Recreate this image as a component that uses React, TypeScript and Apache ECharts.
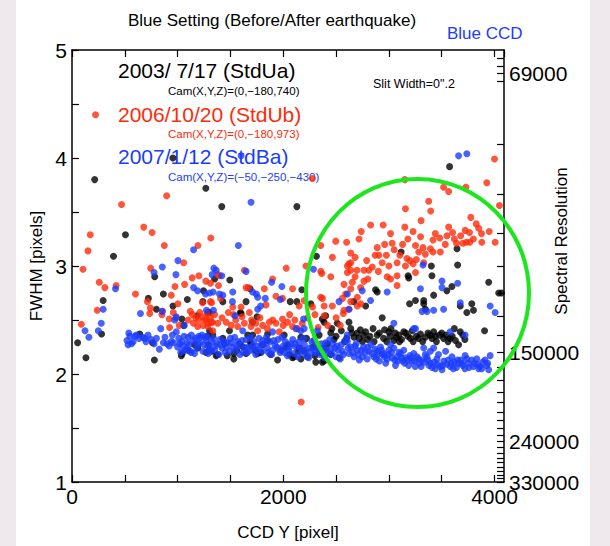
import React, { useEffect, useRef } from "react";
import * as echarts from "echarts";

// ---------- data ----------
const std2003: [number, number][] = [
  [53, 2.29], [132, 2.15], [215, 3.8], [280, 2.37], [295, 2.68], [393, 3.09], [506, 3.29], [641, 2.37],
  [723, 2.7], [762, 2.29], [780, 2.13], [799, 2.6], [783, 2.9], [865, 2.74], [956, 2.63], [955, 4.0],
  [1035, 2.17], [1040, 2.51], [1044, 2.19], [1057, 2.45], [1092, 2.69], [1186, 2.54], [1192, 2.24],
  [1239, 2.67], [1245, 2.77], [1267, 3.72], [1270, 2.2], [1283, 2.35], [1286, 2.57], [1292, 2.27],
  [1302, 2.4], [1302, 2.57], [1333, 2.36], [1350, 2.88], [1365, 2.17], [1380, 2.18], [1418, 3.55],
  [1428, 2.33], [1428, 2.67], [1443, 2.28], [1491, 2.4], [1494, 2.87], [1532, 2.14], [1532, 2.19],
  [1585, 2.28], [1594, 2.57], [1601, 2.56], [1648, 2.67], [1648, 2.19], [1663, 2.36], [1686, 2.79],
  [1686, 2.3], [1695, 2.27], [1710, 2.48], [1710, 2.36], [1752, 2.53], [1758, 2.19], [1788, 2.2],
  [1805, 2.27], [1852, 2.37], [1852, 2.31], [1946, 2.13], [2009, 2.36], [2025, 2.25], [2041, 2.27],
  [2066, 2.67], [2088, 2.15], [2104, 2.16], [2129, 2.67], [2129, 3.55], [2151, 2.24], [2167, 2.14],
  [2167, 2.34], [2176, 2.78], [2198, 2.21], [2220, 2.33], [2261, 2.65], [2300, 2.17], [2308, 2.11],
  [2314, 3.09], [2340, 2.36], [2370, 2.51], [2370, 2.11], [2387, 2.12], [2387, 2.48], [2402, 2.54],
  [2402, 2.24], [2450, 2.38], [2450, 2.18], [2480, 2.32], [2512, 2.47], [2530, 2.15], [2550, 2.4],
  [2580, 2.3], [2622, 2.48], [2639, 2.42], [2670, 2.67], [2670, 2.34], [2700, 2.38], [2717, 2.33],
  [2750, 2.3], [2780, 2.63], [2780, 2.39], [2820, 2.35], [2850, 2.42], [2874, 2.78], [2890, 2.76],
  [2890, 2.36], [2937, 2.52], [2950, 2.33], [2980, 2.3], [3000, 2.39], [3020, 2.42], [3047, 2.31],
  [3070, 2.34], [3094, 2.36], [3116, 3.13], [3120, 2.32], [3141, 2.39], [3160, 2.38], [3182, 2.91],
  [3188, 2.89], [3196, 2.65], [3204, 2.33], [3230, 2.3], [3252, 2.68], [3260, 2.35], [3299, 2.37],
  [3330, 2.68], [3330, 2.65], [3345, 2.6], [3345, 2.34], [3370, 2.38], [3402, 3.0], [3408, 2.91],
  [3408, 2.33], [3424, 2.39], [3424, 2.73], [3450, 2.3], [3480, 2.36], [3518, 2.33], [3549, 2.77],
  [3560, 2.3], [3575, 3.92], [3597, 2.81], [3600, 2.35], [3620, 2.42], [3645, 3.16], [3651, 3.01],
  [3660, 2.27], [3676, 2.63], [3676, 2.39], [3700, 2.36], [3738, 2.57], [3785, 2.65], [3801, 2.59],
  [3906, 2.4], [3945, 2.85], [4040, 2.75], [4066, 2.75],
  [2460, 2.42], [2500, 2.35], [2600, 2.33], [2650, 2.38], [2730, 2.41], [2760, 2.36], [2800, 2.32],
  [2860, 2.3], [2910, 2.38], [2960, 2.41], [3010, 2.35], [3060, 2.38], [3100, 2.3], [3180, 2.35],
  [3220, 2.4], [3280, 2.33], [3320, 2.3], [3390, 2.36], [3440, 2.35], [3500, 2.38], [3540, 2.36],
  [3580, 2.33], [3630, 2.31], [3720, 2.32],
  [1100, 2.22], [1160, 2.27], [1320, 2.21], [1470, 2.17], [1560, 2.22], [1620, 2.25], [1730, 2.22],
  [1880, 2.18], [1980, 2.22], [2060, 2.18], [2140, 2.21], [2230, 2.16], [2280, 2.25], [2350, 2.2],
  [2420, 2.28],
];

const std2006: [number, number][] = [
  [88, 2.46], [104, 2.97], [151, 3.14], [173, 3.29], [223, 4.4], [239, 2.59], [258, 2.85], [311, 2.8],
  [418, 2.82], [469, 3.57], [601, 2.74], [679, 3.36], [714, 2.67], [736, 2.56], [742, 2.61], [745, 2.98],
  [758, 3.31], [851, 2.55], [855, 2.58], [874, 3.19], [896, 3.65], [921, 2.51], [924, 2.43], [940, 2.73],
  [959, 2.57], [975, 2.81], [984, 2.52], [1003, 2.65], [1015, 2.45], [1057, 3.03], [1066, 2.83],
  [1138, 2.89], [1192, 3.19], [1201, 2.91], [1236, 2.66], [1267, 2.86], [1311, 2.84], [1314, 3.26],
  [1321, 2.66], [1311, 2.67], [1140, 2.55], [1170, 2.52], [1200, 2.5], [1230, 2.53], [1260, 2.5],
  [1290, 2.47], [1150, 2.47], [1190, 2.44], [1240, 2.45], [1310, 2.52], [1280, 2.56], [1210, 2.57],
  [1330, 2.48], [1270, 2.51], [1318, 2.48], [1286, 2.44], [1380, 2.47], [1333, 2.4], [1380, 2.92],
  [1387, 2.82], [1396, 2.91], [1406, 2.7], [1459, 2.48], [1507, 2.45], [1522, 2.62], [1530, 2.55],
  [1569, 2.44], [1601, 2.62], [1632, 2.96], [1632, 2.47], [1648, 2.8], [1670, 2.8], [1679, 2.57],
  [1695, 2.44], [1758, 2.4], [1805, 2.45], [1821, 2.79], [1836, 2.64], [1868, 2.48], [1899, 2.88],
  [1931, 2.72], [1931, 2.47], [1962, 2.39], [1993, 2.7], [1993, 2.51], [2028, 2.98], [2041, 2.48],
  [2088, 2.79], [2088, 2.44], [2135, 2.42], [2151, 2.63], [2170, 1.74], [2198, 2.68], [2215, 3.0],
  [2276, 3.81], [2277, 2.62], [2355, 3.19], [2355, 2.95], [2355, 2.71], [2365, 2.93], [2371, 2.7],
  [2387, 2.63], [2387, 2.54], [2420, 2.45], [2450, 2.9], [2465, 3.08], [2465, 2.63], [2497, 3.23],
  [2500, 2.52], [2540, 2.45], [2569, 2.56], [2575, 2.83], [2575, 2.59], [2591, 2.74], [2600, 3.22],
  [2607, 2.94], [2607, 3.0], [2622, 2.6], [2622, 3.02], [2639, 3.12], [2639, 3.03], [2639, 2.96],
  [2639, 2.79], [2639, 2.67], [2654, 2.85], [2698, 2.96], [2701, 2.71], [2701, 2.63], [2717, 3.25],
  [2733, 2.8], [2733, 2.65], [2738, 3.32], [2764, 2.86], [2764, 2.96], [2811, 2.96], [2827, 3.38],
  [2843, 2.99], [2890, 3.17], [2905, 3.1], [2937, 3.03], [2946, 3.38], [2976, 3.1], [2984, 2.9],
  [3000, 3.0], [3016, 3.3], [3016, 2.88], [3031, 3.21], [3078, 2.91], [3078, 2.82], [3078, 3.03],
  [3104, 3.1], [3151, 3.8], [3151, 3.36], [3157, 3.53], [3157, 3.0], [3171, 3.07], [3200, 3.05],
  [3230, 3.02], [3252, 3.19], [3252, 2.94], [3260, 3.06], [3229, 3.32], [3283, 3.13], [3305, 3.42],
  [3323, 3.17], [3330, 3.03], [3345, 3.11], [3377, 3.6], [3393, 3.16], [3396, 3.51], [3418, 3.24],
  [3418, 3.13], [3481, 3.26], [3487, 3.13], [3518, 3.73], [3534, 3.2], [3566, 3.69], [3566, 3.36],
  [3603, 3.31], [3641, 3.21], [3700, 3.21], [3722, 3.33], [3729, 3.73], [3735, 3.22], [3763, 3.31],
  [3766, 3.22], [3776, 3.45], [3827, 3.39], [3877, 3.3], [3880, 3.22], [3927, 3.77], [4000, 3.99],
  [4006, 3.22], [4047, 3.56],
  [1100, 2.5], [1120, 2.58], [1350, 2.55], [1420, 2.52], [1480, 2.57], [1550, 2.5], [1610, 2.53],
  [1700, 2.5], [1740, 2.47], [1780, 2.52], [1850, 2.42], [1900, 2.5], [2000, 2.45], [2060, 2.55],
  [2110, 2.5], [2180, 2.47], [2230, 2.52], [2300, 2.55], [2330, 2.43],
  [2680, 3.08], [2790, 3.05], [2870, 3.1], [2960, 3.2], [3050, 3.15], [3130, 3.2], [3180, 3.25],
  [3300, 3.27], [3440, 3.3], [3550, 3.28], [3620, 3.25], [3680, 3.28], [3800, 3.25], [3850, 3.35],
  [3950, 3.32], [2560, 2.7], [2680, 2.9], [2800, 2.88], [2900, 2.95],
];

const std2007: [number, number][] = [
  [123, 2.4], [160, 2.34], [249, 2.4], [277, 2.47], [295, 2.6], [412, 2.79], [531, 2.27], [538, 2.38],
  [547, 2.35], [563, 2.28], [594, 2.35], [635, 2.33], [648, 2.56], [670, 2.34], [688, 2.33], [777, 2.94],
  [777, 2.28], [827, 2.23], [840, 2.42], [855, 2.99], [855, 2.58], [865, 2.29], [900, 2.28], [940, 2.3],
  [972, 2.5], [984, 2.92], [987, 2.53], [987, 2.39], [1003, 3.05], [1019, 2.28], [1063, 2.45],
  [1082, 2.23], [1129, 2.2], [1151, 3.15], [1151, 2.8], [1189, 2.77], [1264, 2.74], [1273, 2.59],
  [1286, 2.26], [1302, 2.75], [1327, 2.92], [1336, 2.76], [1339, 2.59], [1343, 2.98], [1365, 2.96],
  [1396, 2.74], [1418, 2.91], [1428, 2.73], [1519, 2.67], [1522, 2.76], [1544, 2.54], [1575, 3.19],
  [1601, 4.02], [1616, 2.4], [1648, 2.95], [1695, 3.59], [1710, 2.76], [1745, 2.74], [1758, 2.6],
  [1758, 2.71], [1786, 2.63], [1830, 2.7], [1890, 2.85], [1899, 2.39], [1972, 2.69], [1987, 2.81],
  [2120, 2.42], [2167, 2.4], [2192, 2.51], [2198, 2.42], [2286, 2.97], [2323, 2.4], [2528, 2.67],
  [2606, 2.36], [2607, 2.74], [2622, 2.6], [2748, 2.77], [2827, 2.68], [2984, 2.76], [3047, 2.47],
  [3236, 2.42], [3252, 2.42], [3299, 2.79], [3314, 2.58], [3323, 3.01], [3361, 2.58], [3424, 2.59],
  [3503, 2.86], [3503, 2.8], [3518, 2.6], [3581, 2.39], [3651, 2.84], [3660, 4.02], [3676, 2.66],
  [3722, 2.36], [3738, 4.04], [3959, 2.63], [4006, 2.57],
  [1060, 2.35], [1100, 2.34], [1130, 2.36], [1170, 2.33], [1200, 2.35], [1230, 2.36], [1260, 2.34],
  [1280, 2.35],
  [1000, 2.25], [1040, 2.3], [1070, 2.22], [1110, 2.27], [1150, 2.31], [1180, 2.24], [1210, 2.29],
  [1240, 2.21], [1270, 2.31], [1300, 2.25], [1320, 2.3], [1350, 2.22], [1370, 2.28], [1400, 2.32],
  [1420, 2.24], [1450, 2.2], [1470, 2.29], [1500, 2.33], [1520, 2.25], [1550, 2.22], [1570, 2.3],
  [1600, 2.27], [1620, 2.2], [1650, 2.32], [1670, 2.25], [1700, 2.22], [1720, 2.3], [1750, 2.26],
  [1770, 2.33], [1800, 2.21], [1820, 2.28], [1850, 2.24], [1870, 2.3], [1900, 2.22], [1920, 2.27],
  [1950, 2.32], [1970, 2.2], [2000, 2.26], [2020, 2.3], [2050, 2.22], [2070, 2.28], [2100, 2.19],
  [2120, 2.25], [2150, 2.3], [2170, 2.2], [2200, 2.27], [2220, 2.17], [2250, 2.24], [2270, 2.3],
  [2300, 2.2], [2320, 2.26], [2350, 2.18], [2370, 2.24], [2400, 2.29], [2420, 2.19], [2450, 2.23],
  [2470, 2.28], [2500, 2.16], [2520, 2.22], [2550, 2.27], [2570, 2.18], [2590, 2.31],
  [1030, 2.2], [1090, 2.29], [1160, 2.19], [1220, 2.34], [1290, 2.19], [1340, 2.33], [1390, 2.18],
  [1440, 2.3], [1490, 2.21], [1540, 2.34], [1590, 2.18], [1640, 2.24], [1690, 2.34], [1740, 2.18],
  [1790, 2.27], [1840, 2.34], [1890, 2.18], [1940, 2.25], [1990, 2.34], [2040, 2.17], [2090, 2.32],
  [2140, 2.16], [2190, 2.33], [2240, 2.15], [2290, 2.31], [2340, 2.22], [2390, 2.15], [2440, 2.32],
  [2490, 2.24], [2540, 2.14],
  [2607, 2.3], [2622, 2.19], [2639, 2.25], [2670, 2.16], [2690, 2.28], [2701, 2.22], [2720, 2.13],
  [2748, 2.16], [2760, 2.25], [2795, 2.14], [2810, 2.21], [2830, 2.27], [2858, 2.16], [2870, 2.23],
  [2890, 2.21], [2910, 2.12], [2921, 2.25], [2940, 2.18], [2953, 2.19], [2970, 2.1], [2984, 2.14],
  [3000, 2.22], [3016, 2.27], [3030, 2.15], [3047, 2.24], [3063, 2.08], [3078, 2.16], [3095, 2.2],
  [3110, 2.19], [3130, 2.12], [3141, 2.22], [3160, 2.15], [3188, 2.08], [3200, 2.17], [3220, 2.12],
  [3236, 2.19], [3250, 2.07], [3267, 2.16], [3290, 2.1], [3314, 2.13], [3330, 2.24], [3345, 2.18],
  [3361, 2.16], [3380, 2.08], [3393, 2.21], [3393, 2.1], [3424, 2.24], [3440, 2.05], [3455, 2.14],
  [3470, 2.18], [3487, 2.07], [3503, 2.04], [3520, 2.12], [3537, 2.21], [3550, 2.09], [3581, 2.07],
  [3597, 2.16], [3620, 2.11], [3640, 2.06], [3660, 2.1], [3680, 2.13], [3700, 2.08], [3722, 2.17],
  [3738, 2.14], [3760, 2.06], [3785, 2.13], [3810, 2.1], [3832, 2.14], [3850, 2.05], [3864, 2.07],
  [3890, 2.11], [3927, 2.08], [3945, 2.04], [3959, 2.17],
  [520, 2.31], [580, 2.3], [610, 2.36], [700, 2.3], [720, 2.36], [750, 2.32], [800, 2.33], [880, 2.34],
  [920, 2.26], [950, 2.36], [960, 2.29],
  [1010, 2.33], [1050, 2.26], [1120, 2.21], [1190, 2.28], [1250, 2.27], [1310, 2.22], [1360, 2.26],
  [1410, 2.27], [1460, 2.25], [1510, 2.29], [1560, 2.26], [1610, 2.31], [1660, 2.2], [1710, 2.26],
  [1760, 2.22], [1810, 2.31], [1860, 2.2], [1910, 2.31], [1960, 2.23], [2010, 2.2], [2060, 2.25],
  [2110, 2.28], [2160, 2.24], [2210, 2.22], [2260, 2.2], [2310, 2.24], [2360, 2.28], [2410, 2.23],
  [2460, 2.19], [2510, 2.26], [2560, 2.21],
  [2615, 2.24], [2655, 2.2], [2680, 2.26], [2710, 2.18], [2740, 2.22], [2775, 2.2], [2800, 2.25],
  [2840, 2.19], [2880, 2.14], [2900, 2.18], [2930, 2.22], [2960, 2.16], [2995, 2.18], [3025, 2.2],
  [3055, 2.13], [3085, 2.12], [3120, 2.15], [3150, 2.1], [3175, 2.13], [3210, 2.15], [3245, 2.12],
  [3280, 2.14], [3305, 2.07], [3335, 2.11], [3370, 2.13], [3410, 2.06], [3430, 2.11], [3460, 2.09],
  [3510, 2.08], [3560, 2.13], [3590, 2.1], [3610, 2.05], [3650, 2.13], [3690, 2.1], [3720, 2.05],
  [3750, 2.1], [3800, 2.07], [3840, 2.09], [3880, 2.05], [3910, 2.13], [3935, 2.1],
];

const xTickLabels = [0, 2000, 4000];
const yTickLabels = [1, 2, 3, 4, 5];
const RES_CONST = 330000;
const resolutionTicks = [
  67000, 68000, 69000, 70000, 80000, 90000, 100000, 110000, 120000, 130000, 140000, 150000, 160000,
  170000, 180000, 190000, 200000, 210000, 220000, 230000, 240000, 250000, 260000, 270000, 280000,
  290000, 300000, 310000, 320000, 330000,
];
const resolutionLabels = [69000, 150000, 240000, 330000];

const FONT = "'Liberation Sans', Arial, Helvetica, sans-serif";
const BLACK = "#000000";
const RED = "#ff2a0a";
const BLUE = "#1a3cff";

export default function App() {
  const ref = useRef<HTMLDivElement>(null);

  useEffect(() => {
    if (!ref.current) return;
    const chart = echarts.init(ref.current, null, { renderer: "svg" });
    const axisLine = { show: true, onZero: false, lineStyle: { color: "#000", width: 1.5 } };
    const tick = { show: true, inside: true, length: 7, lineStyle: { color: "#000", width: 1.2 } };
    const labelStyle = { color: "#000", fontSize: 21, fontFamily: FONT };

    chart.setOption({
      animation: false,
      backgroundColor: "transparent",
      grid: { left: 72, top: 50, width: 432, height: 434, containLabel: false },
      xAxis: [
        {
          type: "value",
          min: 0,
          max: 4090,
          interval: 500,
          position: "bottom",
          axisLine,
          axisTick: tick,
          splitLine: { show: false },
          axisLabel: {
            ...labelStyle,
            margin: 4,
            showMaxLabel: false,
            formatter: (v: number) => (xTickLabels.includes(v) ? String(v) : ""),
          },
          name: "CCD Y [pixel]",
          nameLocation: "middle",
          nameGap: 42,
          nameTextStyle: { color: "#000", fontSize: 17, fontFamily: FONT },
        },
        {
          type: "value",
          min: 0,
          max: 4090,
          interval: 500,
          position: "top",
          axisLine,
          axisTick: tick,
          splitLine: { show: false },
          axisLabel: { show: false },
        },
      ],
      yAxis: [
        {
          type: "value",
          min: 1,
          max: 5,
          interval: 0.5,
          position: "left",
          axisLine,
          axisTick: tick,
          splitLine: { show: false },
          axisLabel: {
            ...labelStyle,
            margin: 5,
            formatter: (v: number) => (yTickLabels.includes(v) ? String(v) : ""),
          },
        },
        {
          type: "value",
          min: 1,
          max: 5,
          position: "right",
          axisLine,
          axisTick: { ...tick, customValues: resolutionTicks.map((r) => RES_CONST / r) },
          splitLine: { show: false },
          axisLabel: {
            ...labelStyle,
            margin: 5,
            customValues: resolutionLabels.map((r) => RES_CONST / r),
            formatter: (v: number) => String(Math.round(RES_CONST / v / 1000) * 1000),
          },
        },
      ],
      series: [
        {
          name: "2003/ 7/17 (StdUa)",
          type: "scatter",
          data: std2003,
          symbolSize: 7,
          itemStyle: { color: BLACK },
        },
        {
          name: "2006/10/20 (StdUb)",
          type: "scatter",
          data: std2006,
          symbolSize: 7,
          itemStyle: { color: RED },
        },
        {
          name: "2007/1/12 (StdBa)",
          type: "scatter",
          data: std2007,
          symbolSize: 7,
          itemStyle: { color: BLUE },
        },
      ],
      graphic: [
        {
          type: "text",
          x: 272,
          y: 20,
          style: {
            text: "Blue Setting (Before/After earthquake)",
            fill: "#000",
            font: `17px ${FONT}`,
            textAlign: "center",
            textVerticalAlign: "middle",
          },
        },
        {
          type: "text",
          x: 447,
          y: 33,
          style: { text: "Blue CCD", fill: BLUE, font: `17px ${FONT}`, textVerticalAlign: "middle" },
        },
        {
          type: "text",
          x: 118,
          y: 70,
          style: { text: "2003/ 7/17 (StdUa)", fill: BLACK, font: `21px ${FONT}`, textVerticalAlign: "middle" },
        },
        {
          type: "text",
          x: 168,
          y: 91,
          style: { text: "Cam(X,Y,Z)=(0,\u2212180,740)", fill: BLACK, font: `11.5px ${FONT}`, textVerticalAlign: "middle" },
        },
        {
          type: "text",
          x: 118,
          y: 114,
          style: { text: "2006/10/20 (StdUb)", fill: RED, font: `21px ${FONT}`, textVerticalAlign: "middle" },
        },
        {
          type: "text",
          x: 168,
          y: 134,
          style: { text: "Cam(X,Y,Z)=(0,\u2212180,973)", fill: RED, font: `11.5px ${FONT}`, textVerticalAlign: "middle" },
        },
        {
          type: "text",
          x: 118,
          y: 156,
          style: { text: "2007/1/12 (StdBa)", fill: BLUE, font: `21px ${FONT}`, textVerticalAlign: "middle" },
        },
        {
          type: "text",
          x: 168,
          y: 177,
          style: { text: "Cam(X,Y,Z)=(\u221250,\u2212250,\u2212430)", fill: BLUE, font: `11.5px ${FONT}`, textVerticalAlign: "middle" },
        },
        {
          type: "text",
          x: 373,
          y: 84,
          style: { text: "Slit Width=0\".2", fill: BLACK, font: `12.5px ${FONT}`, textVerticalAlign: "middle" },
        },
        {
          type: "text",
          x: 36,
          y: 266,
          rotation: Math.PI / 2,
          style: { text: "FWHM [pixels]", fill: BLACK, font: `17px ${FONT}`, textAlign: "center", textVerticalAlign: "middle" },
        },
        {
          type: "text",
          x: 561,
          y: 241,
          rotation: Math.PI / 2,
          style: { text: "Spectral Resolution", fill: BLACK, font: `17px ${FONT}`, textAlign: "center", textVerticalAlign: "middle" },
        },
        {
          type: "ellipse",
          shape: { cx: 417.5, cy: 293, rx: 111.5, ry: 114 },
          style: { fill: "none", stroke: "#1ee61e", lineWidth: 4 },
          z: 100,
        },
      ],
    });
    return () => chart.dispose();
  }, []);

  return (
    <div style={{ position: "fixed", left: 0, top: 0, width: 610, height: 546, background: "#efe8ed", overflow: "hidden" }}>
      <div style={{ position: "absolute", left: 16, top: 0, width: 574, height: 546, background: "#ffffff" }} />
      <div ref={ref} style={{ position: "absolute", left: 0, top: 0, width: 610, height: 546 }} />
    </div>
  );
}
